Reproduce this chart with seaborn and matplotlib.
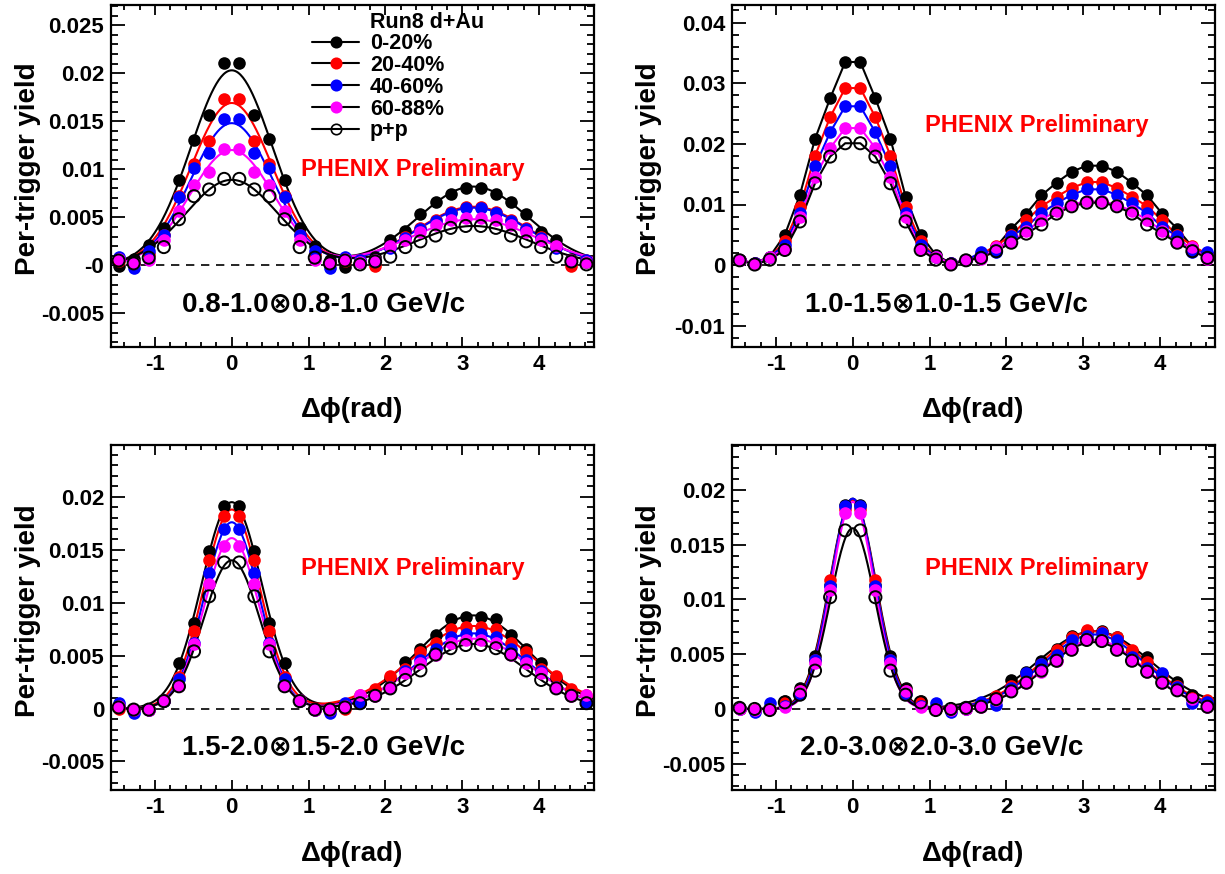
import numpy as np
import pandas as pd
import matplotlib
matplotlib.use("Agg")
import matplotlib.pyplot as plt
import seaborn as sns
from matplotlib.lines import Line2D
from matplotlib.ticker import MultipleLocator, FixedLocator

# ---------------- data ----------------
n_bins = 32
phi_lo, phi_hi = -np.pi / 2, 3 * np.pi / 2
bin_w = (phi_hi - phi_lo) / n_bins
dphi = phi_lo + (np.arange(n_bins) + 0.5) * bin_w

series_names = ["0-20%", "20-40%", "40-60%", "60-88%", "p+p"]
series_colors = ["#000000", "#ff0000", "#0000ff", "#ff00ff", "#000000"]
series_filled = [True, True, True, True, False]

# Panel 1 : 0.8-1.0 x 0.8-1.0 GeV/c
p1_0_20 = [-0.0001, 0.0007, 0.0021, 0.0039, 0.0089, 0.0130, 0.0157, 0.0211, 0.0211, 0.0157, 0.0131, 0.0089, 0.0039, 0.0020, 0.0006, -0.0002,
           0.0004, 0.0009, 0.0026, 0.0036, 0.0053, 0.0066, 0.0074, 0.0081, 0.0081, 0.0074, 0.0066, 0.0053, 0.0035, 0.0026, 0.0007, 0.0004]
p1_20_40 = [0.0005, 0.0002, 0.0012, 0.0032, 0.0072, 0.0106, 0.0129, 0.0173, 0.0173, 0.0129, 0.0106, 0.0072, 0.0032, 0.0012, 0.0002, 0.0005,
            0.0006, -0.0001, 0.0019, 0.0029, 0.0039, 0.0047, 0.0056, 0.0061, 0.0061, 0.0056, 0.0047, 0.0039, 0.0029, 0.0019, -0.0001, 0.0006]
p1_40_60 = [0.0009, -0.0003, 0.0015, 0.0032, 0.0071, 0.0101, 0.0117, 0.0152, 0.0152, 0.0117, 0.0101, 0.0071, 0.0032, 0.0015, -0.0003, 0.0009,
            0.0006, 0.0005, 0.0018, 0.0028, 0.0038, 0.0046, 0.0055, 0.0060, 0.0060, 0.0055, 0.0046, 0.0038, 0.0028, 0.0018, 0.0005, 0.0006]
p1_60_88 = [0.0007, 0.0002, 0.0006, 0.0026, 0.0057, 0.0084, 0.0097, 0.0121, 0.0121, 0.0097, 0.0084, 0.0057, 0.0026, 0.0006, 0.0002, 0.0007,
            0.0003, 0.0006, 0.0020, 0.0026, 0.0035, 0.0042, 0.0047, 0.0049, 0.0049, 0.0047, 0.0042, 0.0035, 0.0026, 0.0020, 0.0006, 0.0003]
p1_pp = [0.0005, 0.0002, 0.0008, 0.0019, 0.0048, 0.0072, 0.0079, 0.0090, 0.0090, 0.0079, 0.0072, 0.0048, 0.0019, 0.0008, 0.0002, 0.0005,
         0.0001, 0.0004, 0.0009, 0.0019, 0.0025, 0.0031, 0.0039, 0.0041, 0.0041, 0.0039, 0.0031, 0.0025, 0.0019, 0.0009, 0.0004, 0.0001]
p1_near_amp = [0.0203, 0.0169, 0.0148, 0.0120, 0.0089]
p1_near_sigma = [0.53, 0.53, 0.53, 0.55, 0.60]
p1_away_amp = [0.0082, 0.0061, 0.0060, 0.0048, 0.0041]
p1_away_sigma = [0.72, 0.74, 0.74, 0.82, 0.75]

# Panel 2 : 1.0-1.5 x 1.0-1.5 GeV/c
p2_0_20 = [0.0008, 0.0003, 0.0014, 0.0050, 0.0116, 0.0208, 0.0275, 0.0335, 0.0335, 0.0275, 0.0208, 0.0113, 0.0050, 0.0017, 0.0003, 0.0008,
           0.0012, 0.0030, 0.0060, 0.0085, 0.0115, 0.0136, 0.0154, 0.0164, 0.0164, 0.0154, 0.0136, 0.0115, 0.0085, 0.0060, 0.0030, 0.0012]
p2_20_40 = [0.0008, 0.0003, 0.0013, 0.0039, 0.0096, 0.0180, 0.0244, 0.0292, 0.0292, 0.0244, 0.0180, 0.0096, 0.0039, 0.0013, 0.0003, 0.0008,
            0.0018, 0.0032, 0.0049, 0.0074, 0.0097, 0.0113, 0.0127, 0.0137, 0.0137, 0.0127, 0.0113, 0.0097, 0.0074, 0.0049, 0.0032, 0.0018]
p2_40_60 = [0.0008, 0.0003, 0.0013, 0.0034, 0.0086, 0.0163, 0.0219, 0.0262, 0.0262, 0.0219, 0.0163, 0.0086, 0.0034, 0.0013, 0.0003, 0.0008,
            0.0021, 0.0021, 0.0048, 0.0063, 0.0086, 0.0102, 0.0116, 0.0125, 0.0125, 0.0116, 0.0102, 0.0086, 0.0063, 0.0048, 0.0021, 0.0021]
p2_60_88 = [0.0009, 0.0002, 0.0014, 0.0026, 0.0080, 0.0145, 0.0193, 0.0226, 0.0226, 0.0193, 0.0145, 0.0080, 0.0026, 0.0014, 0.0002, 0.0009,
            0.0010, 0.0030, 0.0038, 0.0056, 0.0075, 0.0089, 0.0100, 0.0105, 0.0105, 0.0100, 0.0089, 0.0075, 0.0056, 0.0038, 0.0030, 0.0010]
p2_pp = [0.0008, 0.0001, 0.0009, 0.0025, 0.0072, 0.0135, 0.0179, 0.0201, 0.0201, 0.0179, 0.0135, 0.0072, 0.0025, 0.0009, 0.0001, 0.0008,
         0.0012, 0.0023, 0.0037, 0.0052, 0.0067, 0.0085, 0.0097, 0.0103, 0.0103, 0.0097, 0.0085, 0.0067, 0.0052, 0.0037, 0.0023, 0.0012]

# Panel 3 : 1.5-2.0 x 1.5-2.0 GeV/c
p3_0_20 = [0.0002, -0.0001, 0.0000, 0.0007, 0.0043, 0.0081, 0.0149, 0.0191, 0.0191, 0.0149, 0.0081, 0.0043, 0.0007, 0.0000, -0.0001, 0.0002,
           0.0005, 0.0016, 0.0029, 0.0044, 0.0056, 0.0069, 0.0085, 0.0086, 0.0086, 0.0085, 0.0069, 0.0056, 0.0043, 0.0029, 0.0016, 0.0005]
p3_20_40 = [0.0000, -0.0001, -0.0001, 0.0007, 0.0030, 0.0073, 0.0140, 0.0182, 0.0182, 0.0140, 0.0073, 0.0030, 0.0007, -0.0001, -0.0001, 0.0000,
            0.0013, 0.0018, 0.0031, 0.0037, 0.0053, 0.0062, 0.0075, 0.0077, 0.0077, 0.0075, 0.0062, 0.0053, 0.0037, 0.0031, 0.0018, 0.0013]
p3_40_60 = [0.0005, -0.0004, -0.0001, 0.0007, 0.0028, 0.0062, 0.0128, 0.0170, 0.0170, 0.0128, 0.0062, 0.0028, 0.0007, -0.0001, -0.0004, 0.0005,
            0.0005, 0.0013, 0.0020, 0.0035, 0.0046, 0.0056, 0.0068, 0.0070, 0.0070, 0.0068, 0.0056, 0.0046, 0.0035, 0.0020, 0.0013, 0.0005]
p3_60_88 = [0.0002, -0.0001, -0.0001, 0.0008, 0.0021, 0.0061, 0.0118, 0.0154, 0.0154, 0.0118, 0.0061, 0.0021, 0.0008, -0.0001, -0.0001, 0.0002,
            0.0013, 0.0012, 0.0020, 0.0034, 0.0043, 0.0051, 0.0062, 0.0065, 0.0065, 0.0062, 0.0051, 0.0043, 0.0034, 0.0020, 0.0012, 0.0013]
p3_pp = [0.0001, -0.0001, -0.0001, 0.0007, 0.0021, 0.0054, 0.0106, 0.0138, 0.0138, 0.0106, 0.0054, 0.0021, 0.0007, -0.0001, -0.0001, 0.0001,
         0.0005, 0.0012, 0.0019, 0.0027, 0.0036, 0.0051, 0.0057, 0.0060, 0.0060, 0.0057, 0.0051, 0.0036, 0.0027, 0.0019, 0.0012, 0.0005]
p3_near_amp = [0.0195, 0.0188, 0.0176, 0.0161, 0.0140]
p3_near_sigma = [0.39, 0.365, 0.355, 0.355, 0.365]
p3_away_amp = [0.0088, 0.0078, 0.0071, 0.0066, 0.0061]
p3_away_sigma = [0.73, 0.79, 0.72, 0.74, 0.69]

# Panel 4 : 2.0-3.0 x 2.0-3.0 GeV/c
p4_0_20 = [0.0001, -0.0001, 0.0000, 0.0007, 0.0019, 0.0048, 0.0113, 0.0186, 0.0186, 0.0113, 0.0048, 0.0019, 0.0007, 0.0000, -0.0001, 0.0001,
           0.0005, 0.0011, 0.0026, 0.0034, 0.0044, 0.0055, 0.0067, 0.0071, 0.0071, 0.0066, 0.0053, 0.0047, 0.0032, 0.0025, 0.0013, 0.0005]
p4_20_40 = [0.0000, -0.0001, 0.0000, 0.0006, 0.0016, 0.0045, 0.0118, 0.0183, 0.0183, 0.0118, 0.0045, 0.0016, 0.0006, 0.0000, -0.0001, 0.0000,
            0.0004, 0.0012, 0.0021, 0.0031, 0.0041, 0.0054, 0.0066, 0.0072, 0.0070, 0.0066, 0.0054, 0.0043, 0.0030, 0.0021, 0.0010, 0.0008]
p4_40_60 = [0.0000, -0.0003, 0.0005, 0.0003, 0.0014, 0.0045, 0.0112, 0.0185, 0.0185, 0.0112, 0.0045, 0.0014, 0.0003, 0.0005, -0.0003, 0.0000,
            0.0006, 0.0004, 0.0019, 0.0033, 0.0041, 0.0049, 0.0063, 0.0067, 0.0069, 0.0063, 0.0047, 0.0037, 0.0033, 0.0020, 0.0005, 0.0006]
p4_60_88 = [0.0000, -0.0001, 0.0000, 0.0002, 0.0016, 0.0042, 0.0109, 0.0179, 0.0179, 0.0109, 0.0042, 0.0016, 0.0002, 0.0000, -0.0001, 0.0000,
            0.0002, 0.0008, 0.0016, 0.0024, 0.0034, 0.0044, 0.0055, 0.0064, 0.0063, 0.0055, 0.0045, 0.0034, 0.0024, 0.0017, 0.0009, 0.0002]
p4_pp = [0.0001, 0.0000, -0.0001, 0.0006, 0.0013, 0.0035, 0.0102, 0.0163, 0.0163, 0.0102, 0.0035, 0.0013, 0.0006, -0.0001, 0.0000, 0.0001,
         0.0002, 0.0009, 0.0016, 0.0024, 0.0035, 0.0044, 0.0054, 0.0063, 0.0062, 0.0054, 0.0044, 0.0034, 0.0024, 0.0017, 0.0011, 0.0002]
p4_near_amp = [0.0192, 0.0191, 0.0192, 0.0189, 0.0165]
p4_near_sigma = [0.30, 0.295, 0.29, 0.28, 0.29]
p4_away_amp = [0.0071, 0.0071, 0.0068, 0.0063, 0.0061]
p4_away_sigma = [0.74, 0.68, 0.67, 0.64, 0.64]

panel_labels = ["0.8-1.0\u22970.8-1.0 GeV/c", "1.0-1.5\u22971.0-1.5 GeV/c",
                "1.5-2.0\u22971.5-2.0 GeV/c", "2.0-3.0\u22972.0-3.0 GeV/c"]
p1_yticks = [-0.005, 0.0, 0.005, 0.01, 0.015, 0.02, 0.025]
p1_yticklabels = ["-0.005", "-0", "0.005", "0.01", "0.015", "0.02", "0.025"]
p2_yticks = [-0.01, 0.0, 0.01, 0.02, 0.03, 0.04]
p2_yticklabels = ["-0.01", "0", "0.01", "0.02", "0.03", "0.04"]
p3_yticks = [-0.005, 0.0, 0.005, 0.01, 0.015, 0.02]
p3_yticklabels = ["-0.005", "0", "0.005", "0.01", "0.015", "0.02"]
p4_yticks = p3_yticks
p4_yticklabels = p3_yticklabels
xticks = [-1, 0, 1, 2, 3, 4]
xticklabels = ["-1", "0", "1", "2", "3", "4"]

# ---------------- style ----------------
sns.set_theme(style="ticks")
plt.rcParams["font.family"] = ["Liberation Sans", "DejaVu Sans"]
plt.rcParams["font.weight"] = "bold"
plt.rcParams["axes.labelweight"] = "bold"
plt.rcParams["axes.unicode_minus"] = False
for key in ["text.color", "axes.labelcolor", "xtick.color", "ytick.color", "axes.edgecolor"]:
    plt.rcParams[key] = "black"

fig = plt.figure(figsize=(12.25, 8.74), dpi=100)
W, H = 1225.0, 874.0
rects = [
    [111 / W, 1 - 347 / H, 483 / W, 342 / H],
    [732 / W, 1 - 347 / H, 483 / W, 342 / H],
    [111 / W, 1 - 790 / H, 483 / W, 345 / H],
    [732 / W, 1 - 790 / H, 483 / W, 345 / H],
]

panels = [
    dict(series=[p1_0_20, p1_20_40, p1_40_60, p1_60_88, p1_pp],
         fit=(p1_near_amp, p1_near_sigma, p1_away_amp, p1_away_sigma),
         ylim=(-0.0085, 0.0271), yticks=p1_yticks, yticklabels=p1_yticklabels,
         yminor=0.001, prelim=(0.393, 0.518), label_xy=(0.147, 0.123)),
    dict(series=[p2_0_20, p2_20_40, p2_40_60, p2_60_88, p2_pp],
         fit=None,
         ylim=(-0.0135, 0.0429), yticks=p2_yticks, yticklabels=p2_yticklabels,
         yminor=0.002, prelim=(0.40, 0.649), label_xy=(0.151, 0.123)),
    dict(series=[p3_0_20, p3_20_40, p3_40_60, p3_60_88, p3_pp],
         fit=(p3_near_amp, p3_near_sigma, p3_away_amp, p3_away_sigma),
         ylim=(-0.0077, 0.0249), yticks=p3_yticks, yticklabels=p3_yticklabels,
         yminor=0.001, prelim=(0.393, 0.643), label_xy=(0.147, 0.122)),
    dict(series=[p4_0_20, p4_20_40, p4_40_60, p4_60_88, p4_pp],
         fit=(p4_near_amp, p4_near_sigma, p4_away_amp, p4_away_sigma),
         ylim=(-0.0074, 0.0241), yticks=p4_yticks, yticklabels=p4_yticklabels,
         yminor=0.001, prelim=(0.40, 0.643), label_xy=(0.141, 0.122)),
]

x_fine = np.linspace(phi_lo, phi_hi, 400)

for i, pan in enumerate(panels):
    ax = fig.add_axes(rects[i])
    ax.axhline(0, color="black", lw=1.2, ls=(0, (5, 4)), zorder=1)

    # curves (fits or connecting lines)
    for j, vals in enumerate(pan["series"]):
        col = series_colors[j]
        if pan["fit"] is not None:
            na, ns, aa, asg = pan["fit"]
            yfit = na[j] * np.exp(-x_fine ** 2 / (2 * ns[j] ** 2)) + \
                aa[j] * np.exp(-(x_fine - np.pi) ** 2 / (2 * asg[j] ** 2))
            sns.lineplot(x=x_fine, y=yfit, color=col, lw=1.5, ax=ax, zorder=2)
        else:
            sns.lineplot(x=dphi, y=vals, color=col, lw=1.5, ax=ax, zorder=2)

    # points
    for j, vals in enumerate(pan["series"]):
        col = series_colors[j]
        df = pd.DataFrame({"dphi": dphi, "yield": vals})
        if series_filled[j]:
            sns.scatterplot(data=df, x="dphi", y="yield", color=col, edgecolor=col,
                            linewidth=0, s=82, ax=ax, zorder=3 + j)
        else:
            sns.scatterplot(data=df, x="dphi", y="yield", facecolor="none",
                            edgecolor="black", linewidth=1.4, s=76, ax=ax, zorder=3 + j)

    ax.set_xlim(phi_lo, phi_hi)
    ax.set_ylim(*pan["ylim"])
    ax.xaxis.set_major_locator(FixedLocator(xticks))
    ax.set_xticklabels(xticklabels)
    ax.xaxis.set_minor_locator(MultipleLocator(0.2))
    ax.yaxis.set_major_locator(FixedLocator(pan["yticks"]))
    ax.set_yticklabels(pan["yticklabels"])
    ax.yaxis.set_minor_locator(MultipleLocator(pan["yminor"]))
    ax.tick_params(axis="both", which="both", direction="in", top=True, right=True,
                   width=1.3, labelsize=16, pad=5, colors="black")
    ax.tick_params(axis="y", which="major", length=10)
    ax.tick_params(axis="y", which="minor", length=5)
    ax.tick_params(axis="x", which="major", length=7)
    ax.tick_params(axis="x", which="minor", length=3.5)
    for sp in ax.spines.values():
        sp.set_linewidth(1.6)
        sp.set_color("black")

    ax.set_xlabel("\u0394\u03d5(rad)", fontsize=20, fontweight="bold", va="center")
    ax.xaxis.set_label_coords(0.5, -0.185)
    ax.set_ylabel("Per-trigger yield", fontsize=20, fontweight="bold", va="center")
    ax.yaxis.set_label_coords(-0.172, 0.52)

    ax.text(pan["prelim"][0], pan["prelim"][1], "PHENIX Preliminary", color="#ff0000",
            fontsize=17, fontweight="bold", ha="left", va="center", transform=ax.transAxes)
    ax.text(pan["label_xy"][0], pan["label_xy"][1], panel_labels[i], color="black",
            fontsize=20, fontweight="bold", ha="left", va="center", transform=ax.transAxes)

    if i == 0:
        handles = []
        for j in range(5):
            fc = series_colors[j] if series_filled[j] else "none"
            handles.append(Line2D([0], [0], color="black", lw=1.5, marker="o", markersize=7.5,
                                  markerfacecolor=fc, markeredgecolor=series_colors[j],
                                  markeredgewidth=1.2))
        leg = ax.legend(handles, series_names, loc="upper left", bbox_to_anchor=(0.416, 0.918),
                        frameon=False, fontsize=15.5, handlelength=2.2, handletextpad=0.5,
                        labelspacing=0.04, borderpad=0, borderaxespad=0)
        ax.text(0.536, 0.950, "Run8 d+Au", fontsize=15.5, fontweight="bold",
                ha="left", va="center", transform=ax.transAxes)

fig.savefig("out.png", dpi=100)
